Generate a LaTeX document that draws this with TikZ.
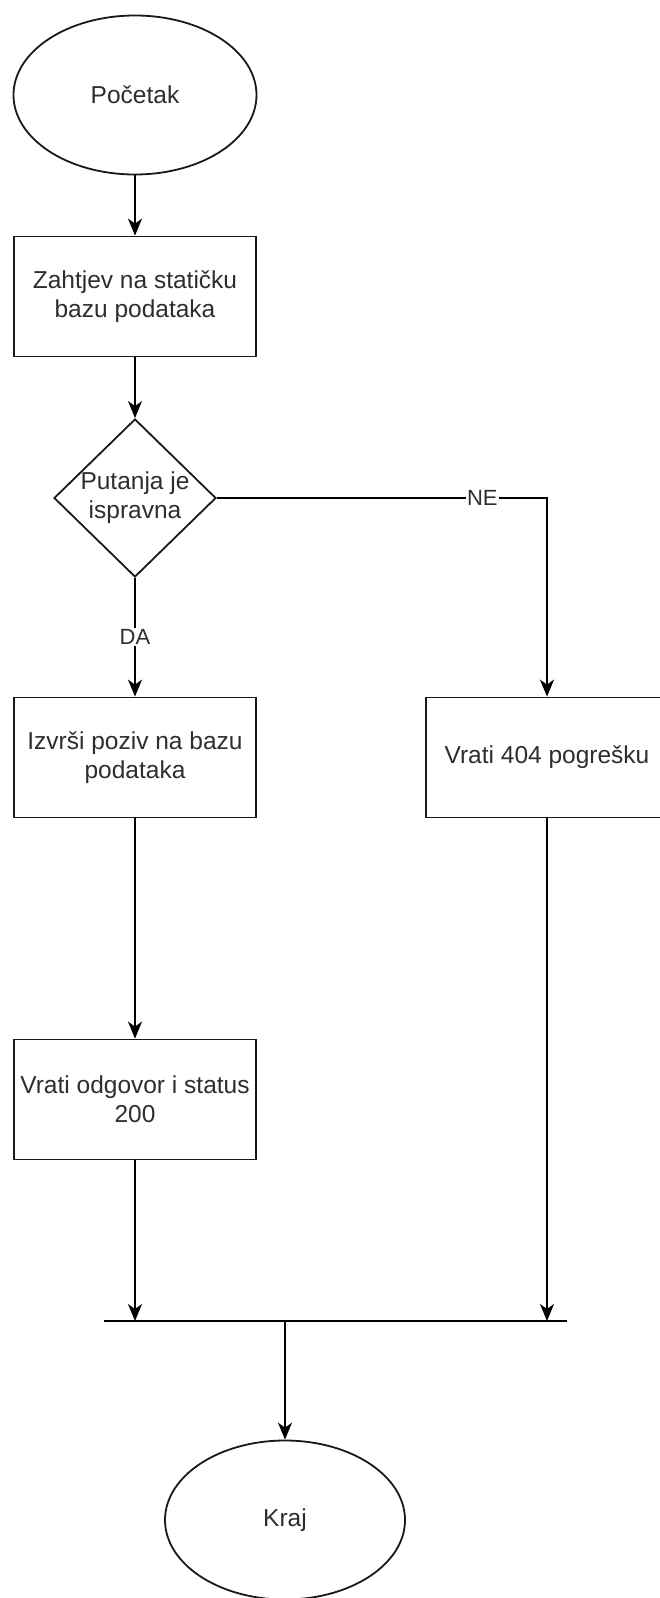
\documentclass[tikz,border=0pt]{standalone}
\usepackage{fontspec}
\setmainfont{Liberation Sans}
\usetikzlibrary{shapes.geometric,arrows.meta}
\begin{document}
\begin{tikzpicture}[x=1pt,y=-1pt,
  every node/.style={font=\fontsize{24.5}{29}\selectfont, text=black!82},
  termbox/.style={ellipse, draw=black!90, line width=1.8pt, minimum width=243pt, minimum height=159pt, inner sep=0pt},
  procbox/.style={rectangle, draw=black!90, line width=1.8pt, minimum width=242pt, minimum height=120pt, align=center, inner sep=0pt},
  decbox/.style={diamond, draw=black!90, line width=1.8pt, minimum width=162pt, minimum height=158pt, inner sep=0pt},
  arr/.style={draw=black, line width=1.8pt, -{Stealth[length=17pt,width=14pt,inset=5pt]}},
  conn/.style={draw=black, line width=1.8pt},
  lab/.style={font=\fontsize{22}{26}\selectfont, fill=white, inner sep=1.5pt}
]
\useasboundingbox (0,0) rectangle (660,1598);
\clip (0,0) rectangle (660,1598);
\fill[white] (0,0) rectangle (660,1598);

\node[termbox] (start) at (135,95) {Početak};
\node[procbox] (b1) at (135,296.5) {Zahtjev na statičku\\bazu podataka};
\node[decbox, label={[align=center, font=\fontsize{24.5}{29}\selectfont, text=black!82]center:Putanja je\\ispravna}] (d) at (135,498) {};
\node[procbox] (b2) at (135,757.5) {Izvrši poziv na bazu\\podataka};
\node[procbox] (b4) at (547,757.5) {Vrati 404 pogrešku};
\node[procbox] (b3) at (135,1099.5) {Vrati odgovor i status\\200};
\node[termbox, minimum width=240pt] (end) at (285,1520) {Kraj};

\coordinate (barL) at (104,1321);
\coordinate (barR) at (567,1321);
\coordinate (barM) at (285,1321);

\draw[arr] (start) -- (b1);
\draw[arr] (b1) -- (d);
\draw[arr] (d.south) -- node[lab] {DA} (b2.north);
\draw[arr] (d.east) -- node[lab, pos=0.804] {NE} (d.east -| b4.north) -- (b4.north);
\draw[arr] (b2) -- (b3);
\draw[conn] (barL) -- (barR);
\draw[arr] (b3.south) -- (b3.south |- barL);
\draw[arr] (b4.south) -- (b4.south |- barL);
\draw[arr] (barM) -- (end.north);
\end{tikzpicture}
\end{document}
